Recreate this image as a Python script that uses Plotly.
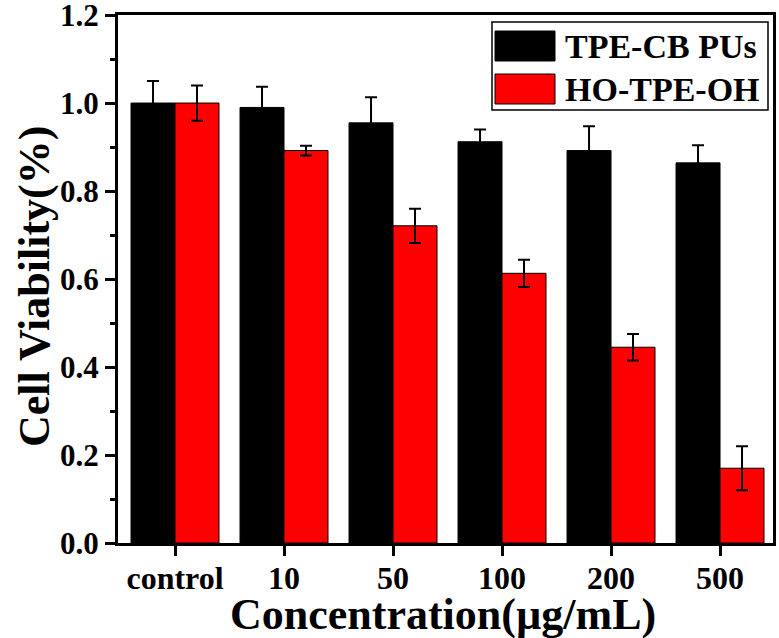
import plotly.graph_objects as go

categories = ["control", "10", "50", "100", "200", "500"]
tpe_cb = [1.0, 0.99, 0.955, 0.912, 0.892, 0.864]
tpe_cb_err = [0.05, 0.047, 0.058, 0.028, 0.055, 0.04]
ho_tpe = [1.0, 0.892, 0.721, 0.613, 0.445, 0.170]
ho_tpe_err = [0.04, 0.011, 0.039, 0.031, 0.03, 0.05]
series_names = ["TPE-CB PUs", "HO-TPE-OH"]
series_colors = ["#000000", "#ff0000"]
y_ticks = [0.0, 0.2, 0.4, 0.6, 0.8, 1.0, 1.2]

FONT = "Liberation Serif"
W, H = 779, 638
L, R, T, B = 118, 6, 15, 95
PW, PH = W - L - R, H - T - B


def px(x):
    return (x - L) / PW


def py(y):
    return (H - B - y) / PH


fig = go.Figure()
for name, vals, errs, col in [
    (series_names[0], tpe_cb, tpe_cb_err, series_colors[0]),
    (series_names[1], ho_tpe, ho_tpe_err, series_colors[1]),
]:
    fig.add_trace(go.Bar(
        x=categories, y=vals, name=name,
        marker=dict(color=col, line=dict(color="black", width=1)),
        error_y=dict(type="data", array=errs, color="black", thickness=2, width=6),
        showlegend=False,
    ))

# manual legend (box, swatches, labels)
fig.add_shape(type="rect", xref="paper", yref="paper",
              x0=px(492), x1=px(768), y0=py(110), y1=py(22),
              line=dict(color="black", width=1.5), fillcolor="white")
for i, (name, col) in enumerate(zip(series_names, series_colors)):
    yc = 46 + i * 43
    fig.add_shape(type="rect", xref="paper", yref="paper",
                  x0=px(495), x1=px(555), y0=py(yc + 15), y1=py(yc - 15),
                  line=dict(color="black", width=1), fillcolor=col)
    fig.add_annotation(xref="paper", yref="paper", x=px(563), y=py(yc),
                       text=name, showarrow=False, xanchor="left", yanchor="middle",
                       font=dict(family=FONT, size=34, color="black", weight="bold"))

# axis titles
fig.add_annotation(xref="paper", yref="paper", x=px(443), y=py(615),
                   text="Concentration(µg/mL)", showarrow=False,
                   xanchor="center", yanchor="middle",
                   font=dict(family=FONT, size=44, color="black", weight="bold"))
fig.add_annotation(xref="paper", yref="paper", x=px(34), y=py(287),
                   text="Cell Viability(%)", showarrow=False, textangle=-90,
                   xanchor="center", yanchor="middle",
                   font=dict(family=FONT, size=44, color="black", weight="bold"))

fig.update_layout(
    width=W, height=H,
    margin=dict(l=L, r=R, t=T, b=B),
    paper_bgcolor="white", plot_bgcolor="white",
    barmode="group", bargap=0.193, bargroupgap=0,
    font=dict(family=FONT, color="black", weight="bold"),
)
fig.update_xaxes(
    type="category", range=[-0.523, 5.486],
    showline=True, linecolor="black", linewidth=3, mirror=True,
    ticks="outside", ticklen=10, tickwidth=2.5, tickcolor="black",
    tickfont=dict(family=FONT, size=32, weight="bold"),
    ticklabelstandoff=-5,
    automargin=False,
    showgrid=False, zeroline=False,
)
fig.update_yaxes(
    range=[0, 1.2001], tickmode="array", tickvals=y_ticks,
    ticktext=[f"{v:.1f}" for v in y_ticks],
    ticklabeloverflow="allow",
    showline=True, linecolor="black", linewidth=3, mirror=True,
    ticks="outside", ticklen=10, tickwidth=2.5, tickcolor="black",
    minor=dict(tickvals=[0.1, 0.3, 0.5, 0.7, 0.9, 1.1], ticks="outside",
               ticklen=5, tickwidth=2.5, tickcolor="black"),
    tickfont=dict(family=FONT, size=31, weight="bold"),
    automargin=False,
    showgrid=False, zeroline=False,
)

fig.write_html(
    "out.html",
    config={"displayModeBar": False},
    post_script="document.body.style.margin='0';document.body.style.overflow='hidden';",
)
